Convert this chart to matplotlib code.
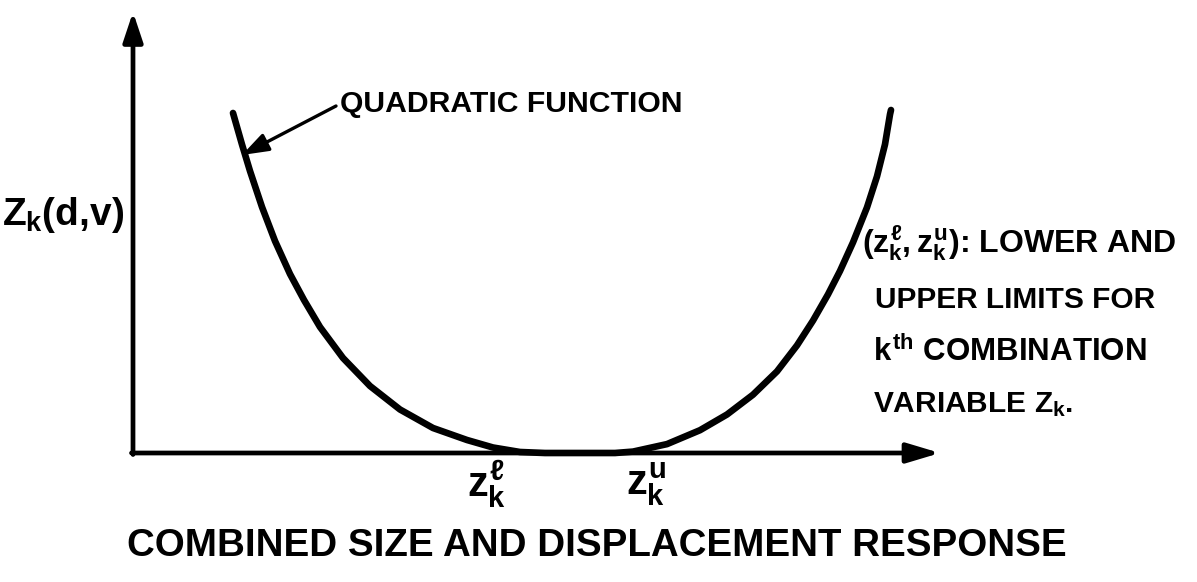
import matplotlib
matplotlib.use("Agg")
import matplotlib.pyplot as plt

plt.rcParams['font.family'] = ['Liberation Sans', 'DejaVu Sans']
plt.rcParams['font.weight'] = 'bold'
plt.rcParams['mathtext.fontset'] = 'custom'
plt.rcParams['mathtext.rm'] = 'Liberation Sans:bold'
plt.rcParams['mathtext.it'] = 'Liberation Sans:bold'
plt.rcParams['mathtext.bf'] = 'Liberation Sans:bold'
plt.rcParams['mathtext.sf'] = 'Liberation Sans:bold'

# ---- data (arbitrary response units) ----
left_x = [1.00, 1.09, 1.17, 1.29, 1.42, 1.57, 1.71, 1.87, 2.10, 2.37, 2.67,
          3.00, 3.34, 3.60, 3.87, 4.12]
left_y = [3.40, 3.085, 2.82, 2.46, 2.12, 1.79, 1.53, 1.26, 0.95, 0.67, 0.435,
          0.25, 0.13, 0.055, 0.01, 0.00]
flat_x = [4.82]
flat_y = [0.00]
right_x = [5.00, 5.34, 5.67, 5.94, 6.20, 6.44, 6.64, 6.80, 6.95, 7.07, 7.20,
           7.34, 7.44, 7.52, 7.57, 7.58]
right_y = [0.014, 0.089, 0.228, 0.385, 0.583, 0.816, 1.076, 1.324, 1.586, 1.82,
           2.106, 2.456, 2.766, 3.086, 3.386, 3.43]

limit_labels = [r'$z_k^{\ell}$', r'$z_k^{u}$']
limit_label_x = [3.54, 5.13]

x_axis_end = 8.07
y_axis_end = 4.41

curve_x = left_x + flat_x + right_x
curve_y = left_y + flat_y + right_y

fig = plt.figure(figsize=(11.97, 5.82), dpi=100)
ax = fig.add_axes([0, 0, 1, 1])
ax.set_xlim(-1.33, 10.64)
ax.set_ylim(-1.29, 4.53)
ax.axis('off')

# axes with arrows
ax.annotate('', xy=(0, y_axis_end), xytext=(0, -0.015),
            arrowprops=dict(arrowstyle='-|>,head_length=0.9,head_width=0.3',
                            lw=3.4, color='black', mutation_scale=20,
                            shrinkA=0, shrinkB=0))
ax.annotate('', xy=(x_axis_end, 0), xytext=(-0.015, 0),
            arrowprops=dict(arrowstyle='-|>,head_length=1.0,head_width=0.3',
                            lw=3.4, color='black', mutation_scale=20,
                            shrinkA=0, shrinkB=0))

# curve
ax.plot(curve_x, curve_y, color='black', lw=4.8, solid_joinstyle='round',
        solid_capstyle='round')

# quadratic function label + pointer
ax.annotate('', xy=(1.09, 2.98), xytext=(2.03, 3.47),
            arrowprops=dict(arrowstyle='-|>,head_length=1.0,head_width=0.35',
                            lw=2.4, color='black', mutation_scale=16,
                            shrinkA=0, shrinkB=0))
ax.text(2.07, 3.49, 'QUADRATIC FUNCTION', fontsize=21.7, fontweight='bold',
        ha='left', va='center')

# y label
ax.text(-1.31, 2.38, r'$Z_k$(d,v)', fontsize=28, fontweight='bold',
        ha='left', va='center')

# limit labels
for lab, xv in zip(limit_labels, limit_label_x):
    ax.text(xv, -0.31, lab, fontsize=30, fontweight='bold', ha='center', va='center')

# right annotation block
ax.text(7.29, 2.10, r'$(z_k^{\ell},z_k^{u})$: LOWER AND', fontsize=23,
        fontweight='bold', ha='left', va='center')
ax.text(7.42, 1.53, 'UPPER LIMITS FOR', fontsize=21.5, fontweight='bold',
        ha='left', va='center')
ax.text(7.40, 1.01, r'$k^{th}$ COMBINATION', fontsize=22.5, fontweight='bold',
        ha='left', va='center')
ax.text(7.40, 0.48, r'VARIABLE $Z_k$.', fontsize=21.5, fontweight='bold',
        ha='left', va='center')

# bottom title
ax.text(4.64, -0.93, 'COMBINED SIZE AND DISPLACEMENT RESPONSE', fontsize=27.7,
        fontweight='bold', ha='center', va='center')

fig.savefig('out.png', dpi=100)
